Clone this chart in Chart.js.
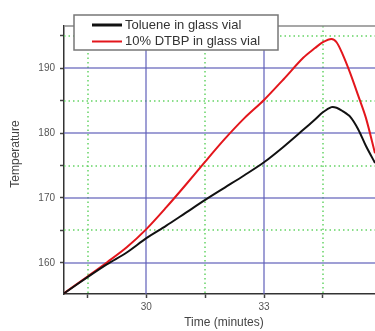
<!DOCTYPE html>
<html>
<head>
<meta charset="utf-8">
<script src="https://cdn.jsdelivr.net/npm/chart.js@4/dist/chart.umd.min.js"></script>
<style>
    html, body { margin: 0; padding: 0; background: #fff; overflow: hidden; }
    #wrap { position: relative; width: 375px; height: 331px; }
</style>
</head>
<body>
<div id="wrap"><canvas id="chart"></canvas></div>
<script>
    // data
    const timeMin = [27.9, 28.5, 29, 29.5, 30, 30.5, 31, 31.5, 32, 32.5, 33, 33.5, 34, 34.3, 34.5, 34.72, 34.85, 35.0, 35.2, 35.4, 35.6, 35.83, 36.0];
    const tolueneTemp = [155.3, 157.8, 159.8, 161.6, 163.8, 165.7, 167.7, 169.7, 171.6, 173.5, 175.5, 177.9, 180.5, 182.1, 183.2, 184.0, 183.9, 183.4, 182.5, 180.6, 178.0, 175.4, 173.5];
    const dtbpTemp = [155.3, 157.9, 160.1, 162.4, 165.2, 168.5, 172.0, 175.6, 179.1, 182.3, 185.1, 188.3, 191.6, 193.1, 194.0, 194.5, 194.0, 192.2, 189.2, 185.8, 182.3, 176.9, 173.0];
    const seriesLabels = ['Toluene in glass vial', '10% DTBP in glass vial'];
    const xTicks = [28.5, 30, 31.5, 33, 34.5];
    const xLabelled = [30, 33];
    const yTicks = [160, 165, 170, 175, 180, 185, 190, 195];
    const yLabelled = [160, 170, 180, 190];

    const FONT = '"Liberation Sans", Arial, sans-serif';

    const pts = vals => timeMin.map((t, i) => ({x: t, y: vals[i]}));

    const gridPlugin = {
        id: 'grid',
        beforeDatasetsDraw(chart) {
            const {ctx, chartArea: a, scales: {x, y}} = chart;
            ctx.save();
            ctx.beginPath();
            ctx.rect(a.left, a.top, a.right - a.left, a.bottom - a.top);
            ctx.clip();
            // minor dotted green
            ctx.strokeStyle = '#66d466';
            ctx.lineWidth = 1.5;
            ctx.setLineDash([1.5, 3]);
            xTicks.filter(v => !xLabelled.includes(v)).forEach(v => {
                const px = Math.round(x.getPixelForValue(v));
                ctx.beginPath(); ctx.moveTo(px, a.top); ctx.lineTo(px, a.bottom); ctx.stroke();
            });
            yTicks.filter(v => !yLabelled.includes(v)).forEach(v => {
                const py = Math.round(y.getPixelForValue(v));
                ctx.beginPath(); ctx.moveTo(a.left, py); ctx.lineTo(a.right, py); ctx.stroke();
            });
            // major solid blue
            ctx.setLineDash([]);
            ctx.strokeStyle = 'rgba(95,95,185,0.8)';
            ctx.lineWidth = 1.5;
            xLabelled.forEach(v => {
                const px = Math.round(x.getPixelForValue(v));
                ctx.beginPath(); ctx.moveTo(px, a.top); ctx.lineTo(px, a.bottom); ctx.stroke();
            });
            yLabelled.forEach(v => {
                const py = Math.round(y.getPixelForValue(v));
                ctx.beginPath(); ctx.moveTo(a.left, py); ctx.lineTo(a.right, py); ctx.stroke();
            });
            ctx.restore();
            // top frame line
            ctx.save();
            ctx.strokeStyle = '#8a8a8a';
            ctx.lineWidth = 1.5;
            ctx.beginPath(); ctx.moveTo(a.left, a.top); ctx.lineTo(a.right, a.top); ctx.stroke();
            ctx.restore();
        },
        afterDraw(chart) {
            const {ctx, chartArea: a} = chart;
            ctx.save();
            // axis titles
            ctx.fillStyle = '#444';
            ctx.font = '12px ' + FONT;
            ctx.textAlign = 'center';
            ctx.textBaseline = 'middle';
            ctx.fillText('Time (minutes)', 224, 323);
            ctx.translate(16, 154);
            ctx.rotate(-Math.PI / 2);
            ctx.fillText('Temperature', 0, 0);
            ctx.restore();

            // legend box
            ctx.save();
            const bx = 74, by = 15, bw = 204, bh = 35;
            ctx.fillStyle = '#fff';
            ctx.fillRect(bx, by, bw, bh);
            ctx.strokeStyle = '#777';
            ctx.lineWidth = 1.5;
            ctx.strokeRect(bx, by, bw, bh);
            ctx.font = '13px ' + FONT;
            ctx.textBaseline = 'middle';
            chart.data.datasets.forEach((ds, i) => {
                const ly = by + 10 + i * 16.5;
                ctx.strokeStyle = ds.borderColor;
                ctx.lineWidth = i === 0 ? 3 : 2;
                ctx.beginPath(); ctx.moveTo(92, ly); ctx.lineTo(122, ly); ctx.stroke();
                ctx.fillStyle = '#333';
                ctx.fillText(ds.label, 125, ly);
            });
            ctx.restore();
        }
    };

    new Chart(document.getElementById('chart'), {
        type: 'line',
        data: {
            datasets: [
                {label: seriesLabels[0], data: pts(tolueneTemp), borderColor: '#111', borderWidth: 2, pointRadius: 0, tension: 0.3},
                {label: seriesLabels[1], data: pts(dtbpTemp), borderColor: '#e3161c', borderWidth: 2, pointRadius: 0, tension: 0.3}
            ]
        },
        options: {
            responsive: true,
            maintainAspectRatio: false,
            animation: false,
            layout: {padding: {top: 26, right: 0, left: 0, bottom: 0}},
            plugins: {legend: {display: false}, tooltip: {enabled: false}},
            scales: {
                x: {
                    type: 'linear',
                    min: 27.9,
                    max: 35.83,
                    afterBuildTicks: s => { s.ticks = xTicks.map(v => ({value: v})); },
                    afterFit: s => { s.height = 37; },
                    ticks: {
                        autoSkip: false,
                        maxRotation: 0,
                        padding: 3,
                        color: '#555',
                        font: {family: FONT, size: 10},
                        callback: v => xLabelled.includes(v) ? String(v) : ''
                    },
                    grid: {drawOnChartArea: false, drawTicks: true, tickLength: 4, tickColor: '#444', tickWidth: 1.5},
                    border: {display: true, color: '#333', width: 1.5}
                },
                y: {
                    min: 155.2,
                    max: 196.5,
                    afterBuildTicks: s => { s.ticks = yTicks.map(v => ({value: v})); },
                    afterFit: s => { s.width = 64; },
                    ticks: {
                        autoSkip: false,
                        padding: 5,
                        color: '#555',
                        font: {family: FONT, size: 10},
                        callback: v => yLabelled.includes(v) ? String(v) : ''
                    },
                    grid: {drawOnChartArea: false, drawTicks: true, tickLength: 4, tickColor: '#444', tickWidth: 1.5},
                    border: {display: true, color: '#333', width: 1.5}
                }
            }
        },
        plugins: [gridPlugin]
    });
</script>
</body>
</html>
